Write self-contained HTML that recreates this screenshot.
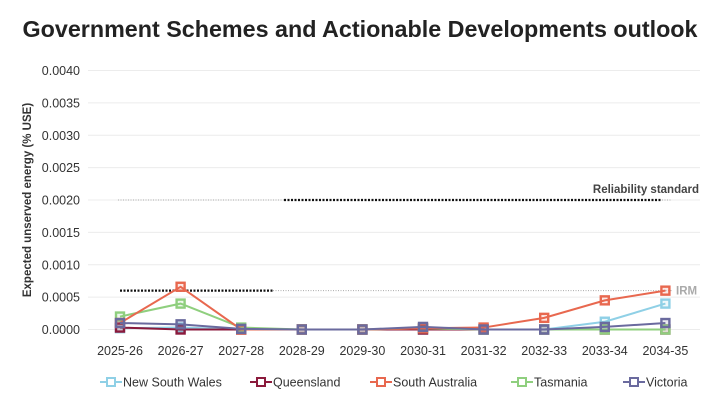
<!DOCTYPE html>
<html><head><meta charset="utf-8"><style>
body{margin:0;background:#fff;width:723px;height:414px;overflow:hidden;font-family:"Liberation Sans",sans-serif}
</style></head><body>
<svg id="c" width="723" height="414" xmlns="http://www.w3.org/2000/svg">
<text x="360" y="37" text-anchor="middle" font-size="23.5" font-weight="bold" fill="#222" textLength="675" lengthAdjust="spacingAndGlyphs">Government Schemes and Actionable Developments outlook</text>
<text transform="translate(31,200) rotate(-90)" text-anchor="middle" font-size="11.5" font-weight="bold" fill="#333">Expected unserved energy (% USE)</text>
<g id="grid"></g><g id="refs"></g><g id="series"></g><g id="legend"></g>
</svg>
<script>
const categories=["2025-26","2026-27","2027-28","2028-29","2029-30","2030-31","2031-32","2032-33","2033-34","2034-35"];
const yTicks=[0,0.0005,0.001,0.0015,0.002,0.0025,0.003,0.0035,0.004];
const seriesNames=["New South Wales","Queensland","South Australia","Tasmania","Victoria"];
const seriesColors=["#8fd0e6","#8b1a3c","#e8684f","#8fcf7e","#6a6a9e"];
const nswValues=[0.00002,0.00003,0,0,0,0,0,0,0.00012,0.0004];
const qldValues=[0.00003,0,0,0,0,0,0,0,0,0];
const saValues=[0.0001,0.00066,0,0,0,0.00002,0.00003,0.00018,0.00045,0.0006];
const tasValues=[0.0002,0.0004,0.00003,0,0,0.00002,0,0,0,0];
const vicValues=[0.0001,0.00008,0.00001,0,0,0.00004,0,0,0.00004,0.0001];
const reliabilityStandard=0.002, irm=0.0006;
const NS="http://www.w3.org/2000/svg";
const x=i=>120+i*60.6;
const y=v=>329.5-v/0.004*259;
function mk(t,a,p){const e=document.createElementNS(NS,t);for(const k in a)e.setAttribute(k,a[k]);p.appendChild(e);return e;}
const grid=document.getElementById('grid');
yTicks.forEach(v=>{
 const l=mk('line',{x1:88,x2:700,y1:y(v),y2:y(v),stroke:'#ececec','stroke-width':1},grid);
 
 
 const t=mk('text',{x:80,y:y(v)+4.5,'text-anchor':'end','font-size':12.5,fill:'#333'},grid);
 t.textContent=v.toFixed(4);
 
 
});
categories.forEach((c,i)=>{
 const t=mk('text',{x:x(i),y:355,'text-anchor':'middle','font-size':12.5,fill:'#333'},grid);
 t.textContent=c;
 
 
});
const refs=document.getElementById('refs');
function dl(x1,x2,v,col,w,nm){const l=mk('line',{x1:x1,x2:x2,y1:y(v),y2:y(v),stroke:col,'stroke-width':w,'stroke-dasharray':w>1.5?'2 1.5':'1 1.5'},refs);
 
 }
dl(118,284,reliabilityStandard,'#aaa',1,'reliability-standard-grey');
dl(284,662,reliabilityStandard,'#111',2.2,'reliability-standard-line');
dl(662,672,reliabilityStandard,'#aaa',1,'reliability-standard-grey');
dl(120,273,irm,'#111',2.2,'irm-line');
dl(273,672,irm,'#aaa',1,'irm-grey');
let t=mk('text',{x:699,y:y(reliabilityStandard)-7,'text-anchor':'end','font-size':11.5,'font-weight':'bold',fill:'#444'},refs);
t.textContent='Reliability standard';


t=mk('text',{x:676,y:y(irm)+4,'font-size':11.5,'font-weight':'bold',fill:'#aaa'},refs);
t.textContent='IRM';


const allVals=[nswValues,qldValues,saValues,tasValues,vicValues];
const order=[0,1,3,2,4];
const sg=document.getElementById('series');
order.forEach(s=>{
 const vals=allVals[s],col=seriesColors[s];
 const p=mk('polyline',{points:vals.map((v,i)=>x(i)+','+y(v)).join(' '),fill:'none',stroke:col,'stroke-width':2},sg);
 
 
 vals.forEach((v,i)=>{
  const r=mk('rect',{x:x(i)-4,y:y(v)-4,width:8,height:8,fill:col,'fill-opacity':0.15,stroke:col,'stroke-width':2.4},sg);
  
  
 });
});
const lg=document.getElementById('legend');
const lx=[100,250,370,511,623];
seriesNames.forEach((n,s)=>{
 const g=mk('g',{},lg);
 
 
 mk('line',{x1:lx[s],x2:lx[s]+22,y1:382,y2:382,stroke:seriesColors[s],'stroke-width':2},g);
 mk('rect',{x:lx[s]+7,y:378,width:8,height:8,fill:'#fff',stroke:seriesColors[s],'stroke-width':2},g);
 const tt=mk('text',{x:lx[s]+23,y:386.5,'font-size':12.5,fill:'#333'},g);
 tt.textContent=n;
});
</script>
</body></html>
